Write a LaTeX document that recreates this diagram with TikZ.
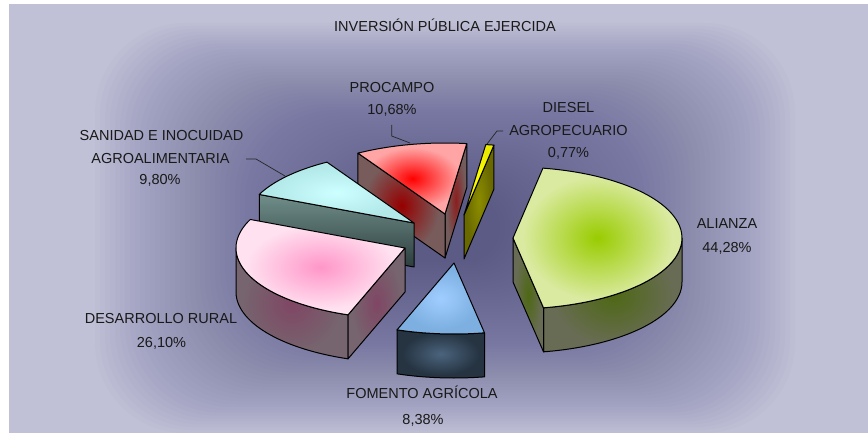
\documentclass[tikz,border=0pt]{standalone}
\usepackage{fontspec}
\setmainfont{Liberation Sans}
\definecolor{bgc}{RGB}{192,192,214}
\definecolor{bgdk}{RGB}{78,78,132}
\definecolor{alTa}{RGB}{153,204,0}
\definecolor{alTb}{RGB}{218,234,160}
\definecolor{alSa}{RGB}{78,104,20}
\definecolor{alSb}{RGB}{104,108,84}
\definecolor{foTa}{RGB}{160,205,255}
\definecolor{foTb}{RGB}{125,175,225}
\definecolor{foSa}{RGB}{75,100,125}
\definecolor{foSb}{RGB}{38,52,66}
\definecolor{drTa}{RGB}{255,150,200}
\definecolor{drTb}{RGB}{255,225,240}
\definecolor{drSa}{RGB}{128,70,100}
\definecolor{drSb}{RGB}{118,100,110}
\definecolor{cyTa}{RGB}{205,255,255}
\definecolor{cyTb}{RGB}{178,232,232}
\definecolor{cyFa}{RGB}{112,142,138}
\definecolor{cyFb}{RGB}{45,62,62}
\definecolor{prTa}{RGB}{255,0,0}
\definecolor{prTb}{RGB}{255,165,165}
\definecolor{prLa}{RGB}{150,0,0}
\definecolor{prLb}{RGB}{120,92,92}
\definecolor{prRa}{RGB}{140,30,30}
\definecolor{prRb}{RGB}{115,92,92}
\definecolor{dlTa}{RGB}{255,255,0}
\definecolor{dlTb}{RGB}{235,235,0}
\definecolor{dlSa}{RGB}{140,140,0}
\definecolor{dlSb}{RGB}{105,105,0}
\colorlet{pcin}{red}
\colorlet{pcout}{red}
\pgfdeclareradialshading[pcin,pcout]{facesh}{\pgfpoint{0bp}{0bp}}{color(0bp)=(pcin); color(22bp)=(pcout); color(50bp)=(pcout)}
\def\Rx{169}
\def\Ry{71}
\def\Hh{44}
\newcommand\pieTop[5]{\path[#5] (#1,#2) -- plot[domain=#3:#4, samples=60, variable=\t] ({#1+\Rx*cos(\t)},{#2-\Ry*sin(\t)}) -- cycle;}
\newcommand\pieSide[5]{\path[#5] plot[domain=#3:#4, samples=50, variable=\t] ({#1+\Rx*cos(\t)},{#2-\Ry*sin(\t)}) -- plot[domain=#4:#3, samples=50, variable=\t] ({#1+\Rx*cos(\t)},{#2+\Hh-\Ry*sin(\t)}) -- cycle;}
\newcommand\pieRad[4]{\path[#4] (#1,#2) -- ({#1+\Rx*cos(#3)},{#2-\Ry*sin(#3)}) -- ++(0,\Hh) -- (#1,{#2+\Hh}) -- cycle;}
\tikzset{
  fc/.code 2 args={\colorlet{pcin}{#1}\colorlet{pcout}{#2}},
  face/.style 2 args={fc={#1}{#2}, shade, shading=facesh, draw=black, line width=1pt, line join=round},
  lbl/.style={anchor=base, font=\fontsize{14.5}{17}\selectfont, text=black!90, inner sep=0pt},
  lead/.style={draw=black!85, line width=0.7pt},
  glow/.style={fill=bgdk, fill opacity=0.025, draw=none}
}
\begin{document}
\begin{tikzpicture}[x=1pt,y=-1pt]
\useasboundingbox (0,0) rectangle (868,433);
\fill[white] (0,0) rectangle (868,433);
\fill[bgc] (9,4) rectangle (868,433);
\begin{scope}
\clip (9,4) rectangle (868,433);
\foreach \i in {0,...,59}{
  \pgfmathsetmacro\hw{350-5*\i}
  \pgfmathsetmacro\hh{205-2.9*\i}
  \pgfmathsetmacro\rc{min(\hh,90)}
  \path[glow, rounded corners=\rc pt] ({445-\hw},{228-\hh}) rectangle ({445+\hw},{228+\hh});
}
\end{scope}
% DIESEL
\pieRad{464}{215}{79.8}{face={dlSa}{dlSb}}
\pieTop{464}{215}{79.8}{82.6}{face={dlTa}{dlTb}}
% PROCAMPO
\pieRad{445}{214}{82.6}{face={prRa}{prRb}}
\pieRad{445}{214}{121.0}{face={prLa}{prLb}}
\pieTop{445}{214}{82.6}{121.0}{face={prTa}{prTb}}
% SANIDAD
\pieRad{414}{223}{156.3}{top color=cyFa, bottom color=cyFb, draw=black, line width=1pt, line join=round}
\pieTop{414}{223}{121.0}{156.3}{face={cyTa}{cyTb}}
% DESARROLLO RURAL
\pieSide{405}{248}{180}{250.3}{face={drSa}{drSb}}
\pieRad{405}{248}{250.3}{face={drSa}{drSb}}
\pieTop{405}{248}{156.3}{250.3}{face={drTa}{drTb}}
% FOMENTO
\pieSide{454}{263}{250.3}{280.4}{face={foSa}{foSb}}
\pieTop{454}{263}{250.3}{280.4}{face={foTa}{foTb}}
% ALIANZA
\pieSide{513}{238}{-79.6}{0}{face={alSa}{alSb}}
\pieRad{513}{238}{-79.6}{face={alSa}{alSb}}
\pieTop{513}{238}{-79.6}{79.8}{face={alTa}{alTb}}
% labels
\node[lbl] (title) at (445,32) {INVERSIÓN PÚBLICA EJERCIDA};
\node[lbl] (pr1) at (392,93) {PROCAMPO};
\node[lbl] (pr2) at (392,115) {10,68\%};
\node[lbl] (dl1) at (568.5,113) {DIESEL};
\node[lbl] (dl2) at (568.5,136) {AGROPECUARIO};
\node[lbl] (dl3) at (568.5,158) {0,77\%};
\node[lbl] (sa1) at (161.5,141) {SANIDAD E INOCUIDAD};
\node[lbl] (sa2) at (160.5,164) {AGROALIMENTARIA};
\node[lbl] (sa3) at (160,185) {9,80\%};
\node[lbl] (al1) at (727,229) {ALIANZA};
\node[lbl] (al2) at (727,252) {44,28\%};
\node[lbl] (dr1) at (161,323) {DESARROLLO RURAL};
\node[lbl] (dr2) at (161.5,347) {26,10\%};
\node[lbl] (fo1) at (422,398) {FOMENTO AGRÍCOLA};
\node[lbl] (fo2) at (423,424) {8,38\%};
% leaders
\coordinate (prA) at (391.7,125);
\coordinate (prB) at (410,143);
\draw[lead] (prA) -- (391.7,136) -- (prB);
\coordinate (saA) at (246,159);
\coordinate (saB) at (285,176);
\draw[lead] (saA) -- (256,159) -- (saB);
\coordinate (dlA) at (503,131);
\coordinate (dlB) at (487,144);
\draw[lead] (dlA) -- (497,131) -- (dlB);
\end{tikzpicture}
\end{document}
